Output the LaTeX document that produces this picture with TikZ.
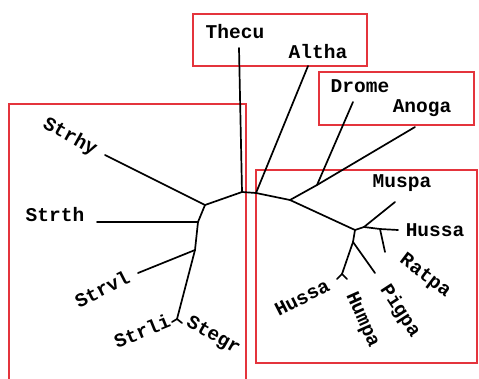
\documentclass[tikz,border=0pt]{standalone}
\usepackage{fontspec}
\newfontfamily\treefont{Liberation Mono}
\definecolor{boxred}{RGB}{228,52,60}
\begin{document}
\begin{tikzpicture}[x=1pt,y=-1pt,
  branch/.style={draw=black,line width=1.7pt,line cap=round,line join=round},
  groupbox/.style={draw=boxred,line width=1.3pt},
  taxon/.style={font=\treefont\bfseries\fontsize{19.5}{22}\selectfont,inner sep=0pt}]
\useasboundingbox (0,0) rectangle (479,378);
% group boxes
\draw[groupbox] (193,14) rectangle (367,66);
\draw[groupbox] (319,72) rectangle (474,125);
\draw[groupbox] (9,380) -- (9,104) -- (246,104) -- (246,380);
\draw[groupbox] (256,170) rectangle (477,363);
% tree coordinates
\coordinate (R0) at (242,192);
\coordinate (thecuTip) at (239,48);
\coordinate (R1) at (256,193);
\coordinate (althaTip) at (308,66);
\coordinate (R2) at (290,200);
\coordinate (DA) at (317,185);
\coordinate (dromeTip) at (353,102);
\coordinate (anogaTip) at (415,127);
\coordinate (M) at (355,230);
\coordinate (MB) at (364,227);
\coordinate (muspaTip) at (395,202);
\coordinate (MC) at (380,229);
\coordinate (hussaTip) at (398,230);
\coordinate (ratpaTip) at (385,252);
\coordinate (MD) at (353,242);
\coordinate (pigpaTip) at (375,273);
\coordinate (HH) at (342,274);
\coordinate (hussaBTip) at (337,279);
\coordinate (humpaTip) at (347,279);
\coordinate (E) at (205,205);
\coordinate (strhyTip) at (105,155);
\coordinate (F) at (198,222);
\coordinate (strthTip) at (97,222);
\coordinate (G) at (195,250);
\coordinate (strvlTip) at (138,273);
\coordinate (H) at (177,319);
\coordinate (strliTip) at (172,322);
\coordinate (stegrTip) at (182,323);
% branches
\draw[branch] (thecuTip) -- (R0);
\draw[branch] (R0) -- (R1);
\draw[branch] (R1) -- (althaTip);
\draw[branch] (R1) -- (R2);
\draw[branch] (R2) -- (DA);
\draw[branch] (DA) -- (dromeTip);
\draw[branch] (DA) -- (anogaTip);
\draw[branch] (R2) -- (M);
\draw[branch] (M) -- (MB);
\draw[branch] (MB) -- (muspaTip);
\draw[branch] (MB) -- (MC);
\draw[branch] (MC) -- (hussaTip);
\draw[branch] (MC) -- (ratpaTip);
\draw[branch] (M) -- (MD);
\draw[branch] (MD) -- (pigpaTip);
\draw[branch] (MD) -- (HH);
\draw[branch] (HH) -- (hussaBTip);
\draw[branch] (HH) -- (humpaTip);
\draw[branch] (R0) -- (E);
\draw[branch] (E) -- (strhyTip);
\draw[branch] (E) -- (F);
\draw[branch] (F) -- (strthTip);
\draw[branch] (F) -- (G);
\draw[branch] (G) -- (strvlTip);
\draw[branch] (G) -- (H);
\draw[branch] (H) -- (strliTip);
\draw[branch] (H) -- (stegrTip);
% labels
\node[taxon] (thecu) at (235,32) {Thecu};
\node[taxon] (altha) at (318,52) {Altha};
\node[taxon] (drome) at (360,86) {Drome};
\node[taxon] (anoga) at (422,108) {Anoga};
\node[taxon] (muspa) at (402,183) {Muspa};
\node[taxon] (hussa) at (435,230) {Hussa};
\node[taxon,rotate=-37] (ratpa) at (425,276) {Ratpa};
\node[taxon,rotate=-57] (pigpa) at (400,311) {Pigpa};
\node[taxon,rotate=-66] (humpa) at (362,320) {Humpa};
\node[taxon,rotate=27] (hussaB) at (302,298) {Hussa};
\node[taxon,rotate=-29] (strhy) at (70,137) {Strhy};
\node[taxon] (strth) at (55,215) {Strth};
\node[taxon,rotate=27] (strvl) at (102,289) {Strvl};
\node[taxon,rotate=22] (strli) at (142,331) {Strli};
\node[taxon,rotate=-30] (stegr) at (213,336) {Stegr};
\end{tikzpicture}
\end{document}
